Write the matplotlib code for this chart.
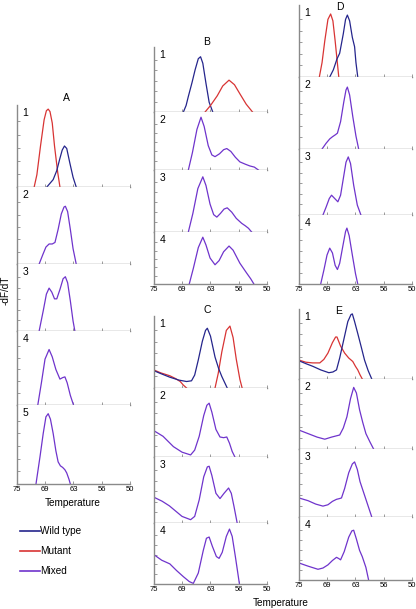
import matplotlib.pyplot as plt
from matplotlib.lines import Line2D

plt.rcParams['font.family'] = ['Liberation Sans', 'DejaVu Sans']

BLUE = '#25258c'
RED = '#d83434'
PURPLE = '#6f34cc'
GREY = '#8a8a8a'
W, H = 416, 609

tick_pos = [75, 68.75, 62.5, 56.25, 50]
tick_lab = ['75', '69', '63', '56', '50']
legend_labels = ['Wild type', 'Mutant', 'Mixed']

# (temperature, -dF/dT normalised)
a1_mut = [(71.2, 0), (70.6, .15), (69.8, .5), (69.0, .82), (68.5, .93), (68.1, .95), (67.7, .92),
          (67.2, .78), (66.7, .5), (66.0, .18), (65.5, 0)]
a1_wt = [(68.4, 0), (67.0, .09), (66.2, .2), (65.6, .33), (65.0, .45), (64.5, .5), (64.0, .47),
         (63.3, .29), (62.6, .12), (61.9, 0)]
a2_mix = [(70.1, 0), (69.3, .12), (68.6, .22), (67.9, .26), (67.2, .26), (66.6, .28), (65.9, .45),
          (65.2, .65), (64.6, .74), (64.3, .75), (63.8, .68), (63.2, .45), (62.6, .2), (61.9, 0)]
a3_mix = [(70.1, 0), (69.2, .3), (68.5, .55), (67.9, .64), (67.3, .58), (66.7, .48), (66.2, .48),
          (65.5, .62), (64.8, .78), (64.3, .81), (63.8, .72), (63.2, .45), (62.6, .15), (62.2, 0)]
a4_mix = [(70.4, 0), (69.6, .3), (68.8, .62), (67.9, .75), (67.2, .65), (66.4, .48), (65.5, .35),
          (64.9, .37), (64.4, .38), (63.9, .3), (63.2, .13), (62.5, 0)]
a5_mix = [(70.8, 0), (69.9, .35), (69.2, .64), (68.6, .85), (68.1, .89), (67.6, .82), (67.0, .64),
          (66.4, .42), (65.9, .28), (65.4, .23), (64.9, .21), (64.4, .18), (64.0, .14), (63.5, .06),
          (63.2, 0)]

b1_wt = [(68.5, 0), (67.9, .1), (67.4, .24), (66.6, .45), (65.9, .65), (65.2, .82), (64.7, .85),
         (64.2, .75), (63.5, .44), (62.8, .15), (62.0, 0)]
b1_mut = [(63.7, 0), (62.5, .1), (61.0, .25), (59.8, .4), (58.4, .49), (57.2, .42), (56.0, .28),
          (54.6, .12), (53.2, 0)]
b2_mix = [(67.4, 0), (66.5, .3), (65.5, .7), (64.6, .91), (63.9, .75), (63.0, .42), (62.2, .26),
          (61.5, .23), (60.5, .28), (59.6, .35), (58.9, .37), (58.0, .32), (57.0, .22), (56.0, .14),
          (54.8, .1), (53.8, .07), (52.8, .05), (51.9, 0)]
b3_mix = [(67.4, 0), (66.4, .3), (65.3, .7), (64.2, .89), (63.5, .75), (62.6, .45), (61.8, .28),
          (61.1, .24), (60.3, .3), (59.5, .37), (58.8, .39), (57.8, .32), (56.8, .22), (55.6, .14),
          (54.8, .1), (54.1, .06), (53.4, 0)]
b4_mix = [(67.2, 0), (66.3, .3), (65.2, .7), (64.2, .9), (63.5, .75), (62.6, .5), (61.5, .37),
          (60.6, .45), (59.6, .62), (58.4, .73), (57.5, .65), (56.0, .4), (54.5, .21), (53.6, .1),
          (52.9, 0)]

c1_wt = [(75, .24), (73.5, .2), (71.5, .15), (69.5, .11), (67.8, .09), (66.7, .1), (66.0, .18),
         (65.2, .39), (64.3, .65), (63.6, .8), (63.2, .83), (62.5, .72), (61.5, .43), (60.7, .27),
         (60.0, .16), (59.4, .08), (58.8, 0)]
c1_mut_low = [(75, .25), (73.5, .21), (71.5, .17), (70.2, .13), (69.2, .09), (68.5, .04), (67.8, 0)]
c1_mut = [(61.5, 0), (60.8, .2), (60.0, .5), (59.0, .8), (58.2, .86), (57.5, .7), (56.8, .4),
          (56.0, .12), (55.5, 0)]
c2_mix = [(75, .38), (73.0, .3), (70.7, .15), (68.8, .07), (66.9, .03), (66.0, .1), (65.0, .3),
          (64.0, .6), (63.3, .75), (62.8, .78), (62.2, .65), (61.3, .4), (60.4, .29), (59.6, .28),
          (58.9, .29), (58.3, .2), (57.7, .08), (57.1, 0)]
c3_mix = [(75, .39), (73.2, .33), (71.6, .26), (70.2, .18), (68.8, .1), (66.9, .05), (66.0, .1),
          (65.0, .35), (64.0, .7), (63.2, .85), (62.8, .86), (62.2, .72), (61.3, .45), (60.4, .37),
          (59.5, .45), (58.5, .53), (57.9, .45), (57.3, .25), (56.6, 0)]
c4_mix = [(75, .48), (73.3, .39), (71.5, .33), (70.0, .22), (68.5, .12), (67.2, .04), (66.3, .01),
          (65.2, .18), (64.1, .55), (63.4, .75), (62.8, .77), (62.1, .62), (61.2, .45), (60.6, .42),
          (59.9, .52), (59.0, .78), (58.3, .9), (57.7, .78), (57.0, .45), (56.5, .2), (56.1, 0)]

d1_mut = [(70.5, 0), (69.9, .2), (69.3, .5), (68.6, .8), (68.0, .875), (67.5, .78), (67.0, .5),
          (66.6, .25), (66.2, 0)]
d1_wt = [(68.2, 0), (67.4, .1), (66.6, .25), (66.0, .33), (65.2, .6), (64.7, .8), (64.3, .86),
         (63.8, .78), (63.2, .55), (62.7, .42), (62.4, .2), (62.0, 0)]
d2_mix = [(69.9, 0), (69.0, .08), (68.2, .14), (67.6, .17), (66.9, .2), (66.5, .22), (65.8, .38),
          (65.1, .65), (64.6, .82), (64.3, .86), (63.8, .75), (63.1, .45), (62.4, .18), (61.8, 0)]
d3_mix = [(69.7, 0), (69.0, .12), (68.3, .25), (67.8, .3), (67.1, .25), (66.4, .2), (65.8, .3),
          (65.2, .55), (64.6, .8), (64.1, .88), (63.6, .78), (62.9, .45), (62.1, .15), (61.3, 0)]
d4_mix = [(70.2, 0), (69.5, .2), (68.8, .42), (68.2, .52), (67.6, .45), (67.0, .27), (66.5, .21),
          (66.0, .3), (65.3, .55), (64.7, .76), (64.4, .81), (63.9, .7), (63.2, .42), (62.5, .15),
          (62.0, 0)]

e1_wt = [(75, .26), (73.5, .22), (71.9, .18), (70.2, .13), (68.4, .09), (67.5, .1), (66.7, .13),
         (66.0, .3), (65.1, .56), (64.2, .82), (63.5, .92), (63.2, .93), (62.7, .82), (62.0, .65),
         (61.2, .45), (60.5, .27), (59.7, .12), (58.9, 0)]
e1_mut = [(75, .27), (73.5, .24), (72.0, .23), (70.4, .23), (69.5, .28), (68.6, .37), (67.6, .52),
          (66.9, .6), (66.6, .6), (65.8, .47), (64.9, .37), (64.0, .3), (63.1, .25), (62.5, .18),
          (62.0, .13), (61.5, .06), (61.0, 0)]
e2_mix = [(75, .27), (73.0, .22), (71.0, .17), (69.3, .14), (67.8, .17), (66.0, .2), (65.2, .3),
          (64.4, .46), (63.6, .72), (62.9, .88), (62.3, .8), (61.6, .56), (60.9, .38), (60.2, .22),
          (59.3, .1), (58.5, 0)]
e3_mix = [(75, .28), (73.0, .24), (71.3, .19), (69.7, .16), (68.6, .18), (67.6, .23), (66.7, .26),
          (66.1, .27), (65.6, .28), (64.9, .42), (64.0, .65), (63.2, .78), (62.7, .81), (62.1, .7),
          (61.5, .52), (60.9, .4), (60.0, .22), (58.9, 0)]
e4_mix = [(75, .27), (73.0, .22), (70.8, .17), (69.7, .19), (68.6, .24), (67.6, .31), (66.7, .36),
          (66.2, .34), (65.8, .32), (65.0, .45), (64.0, .68), (63.3, .78), (62.9, .79), (62.3, .65),
          (61.6, .47), (61.0, .37), (60.2, .2), (59.6, 0)]

# layout in pixels: left edge, row borders, title position, xlabel position
panels = [
    ('A', 17, [105, 187, 264, 331, 405, 484], (66, 98), (73, 503),
     [[(a1_mut, RED), (a1_wt, BLUE)], [(a2_mix, PURPLE)], [(a3_mix, PURPLE)],
      [(a4_mix, PURPLE)], [(a5_mix, PURPLE)]]),
    ('B', 154, [47, 112, 170, 232, 284], (207, 42), None,
     [[(b1_wt, BLUE), (b1_mut, RED)], [(b2_mix, PURPLE)], [(b3_mix, PURPLE)], [(b4_mix, PURPLE)]]),
    ('C', 154, [316, 388, 457, 523, 584], (207, 310), None,
     [[(c1_mut_low, RED), (c1_mut, RED), (c1_wt, BLUE)], [(c2_mix, PURPLE)], [(c3_mix, PURPLE)],
      [(c4_mix, PURPLE)]]),
    ('D', 299, [5, 77, 149, 215, 284], (340, 7), None,
     [[(d1_mut, RED), (d1_wt, BLUE)], [(d2_mix, PURPLE)], [(d3_mix, PURPLE)], [(d4_mix, PURPLE)]]),
    ('E', 299, [309, 379, 449, 517, 580], (339, 311), (281, 603),
     [[(e1_mut, RED), (e1_wt, BLUE)], [(e2_mix, PURPLE)], [(e3_mix, PURPLE)], [(e4_mix, PURPLE)]]),
]

fig = plt.figure(figsize=(W / 100, H / 100), dpi=100)

for name, left, rows, tpos, xlpos, curves in panels:
    n = len(curves)
    for i in range(n):
        top, bottom = rows[i], rows[i + 1]
        ax = fig.add_axes([left / W, 1 - bottom / H, 113 / W, (bottom - top) / H])
        for pts, col in curves[i]:
            t = [p[0] for p in pts]
            h = [p[1] for p in pts]
            ax.plot(t, h, color=col, lw=0.9)
        ax.set_xlim(75, 50)
        ax.set_ylim(0, 1)
        for s in ['top', 'right']:
            ax.spines[s].set_visible(False)
        for s in ['left', 'bottom']:
            ax.spines[s].set_color(GREY)
            ax.spines[s].set_linewidth(1.0)
        ax.set_xticks(tick_pos)
        ax.set_yticks([0.16, 0.32, 0.48, 0.64, 0.8])
        ax.tick_params(axis='both', direction='in', length=2, width=0.6, color=GREY)
        ax.tick_params(axis='y', labelleft=False)
        if i == n - 1:
            ax.set_xticklabels(tick_lab, fontsize=5.5)
            ax.tick_params(axis='x', pad=1.5)
        else:
            ax.tick_params(axis='x', labelbottom=False)
        ax.annotate(str(i + 1), xy=(0, 1), xycoords='axes fraction', xytext=(4, -2),
                    textcoords='offset points', ha='left', va='top', fontsize=7.5)
    fig.text(tpos[0] / W, 1 - tpos[1] / H, name, ha='center', va='center', fontsize=7.5)
    if xlpos is not None:
        fig.text(xlpos[0] / W, 1 - xlpos[1] / H, 'Temperature', ha='center', va='center',
                 fontsize=7.2)

fig.text(6 / W, 1 - 290 / H, '-dF/dT', rotation=90, ha='center', va='center', fontsize=7.2)

handles = [Line2D([], [], color=c, lw=1.2) for c in (BLUE, RED, PURPLE)]
fig.legend(handles, legend_labels, loc='upper left', bbox_to_anchor=(20 / W, 1 - 526 / H),
           frameon=False, fontsize=7.2, handlelength=2.0, handletextpad=0.05,
           labelspacing=1.0, borderpad=0, borderaxespad=0)

fig.savefig('out.png', dpi=100)
